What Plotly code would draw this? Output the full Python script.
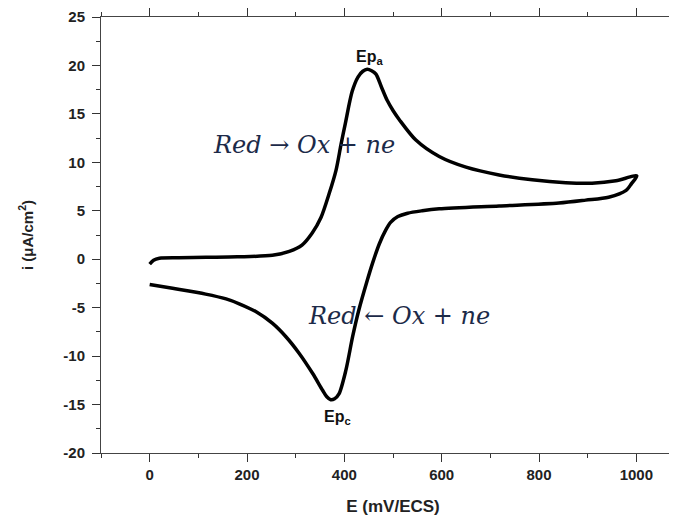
import plotly.graph_objects as go

# Forward (anodic) scan
E_fwd = [0, 8, 20, 60, 116, 180, 252, 287, 313, 334, 352, 369, 383, 393, 402, 416, 428, 438, 447,
         456, 465, 476, 488, 500, 513, 547, 595, 650, 718, 786, 855, 909, 958, 1001]
i_fwd = [-0.5, -0.1, 0.1, 0.15, 0.2, 0.25, 0.4, 0.8, 1.45, 2.7, 4.3, 6.8, 9.2, 11.8, 14.0, 17.3, 18.8, 19.4, 19.6,
         19.45, 19.1, 17.8, 16.4, 15.35, 14.4, 12.3, 10.6, 9.5, 8.7, 8.2, 7.9, 7.85, 8.1, 8.6]

# Reverse (cathodic) scan
E_rev = [1001, 990, 979, 943, 896, 841, 718, 595, 560, 530, 510, 495, 485, 472, 458, 447, 429, 417,
         403, 389, 380, 372, 364, 355, 335, 307, 280, 252, 218, 184, 157, 115, 47, 0]
i_rev = [8.6, 7.8, 7.1, 6.4, 6.1, 5.8, 5.5, 5.2, 5.0, 4.75, 4.4, 3.8, 3.0, 1.6, -0.4, -2.2, -5.4, -8.0,
         -11.5, -13.9, -14.4, -14.5, -14.2, -13.5, -11.8, -9.7, -8.0, -6.6, -5.4, -4.6, -4.1, -3.6, -3.0, -2.6]

x_ticks = [0, 200, 400, 600, 800, 1000]
x_labels = ["0", "200", "400", "600", "800", "1000"]
y_ticks = [-20, -15, -10, -5, 0, 5, 10, 15, 20, 25]
y_labels = ["-20", "-15", "-10", "-5", "0", "5", "10", "15", "20", "25"]

fig = go.Figure()
fig.add_trace(go.Scatter(
    x=E_fwd + E_rev[1:], y=i_fwd + i_rev[1:], mode="lines",
    line=dict(color="black", width=3.5, shape="spline", smoothing=0.8),
    showlegend=False, hoverinfo="skip"))

tickfont = dict(family="Liberation Sans, Arial", size=15, color="#222", weight="bold")
fig.update_layout(
    width=677, height=520,
    margin=dict(l=93, r=0, t=9, b=75),
    paper_bgcolor="white", plot_bgcolor="white",
    xaxis=dict(range=[-100, 1100], tickvals=x_ticks, ticktext=x_labels, ticks="outside", ticklen=8, tickwidth=1,
               tickcolor="#333", showline=True, linecolor="#444", linewidth=1, mirror="ticks",
               showgrid=False, zeroline=False, tickfont=tickfont,
               minor=dict(dtick=100, tick0=0, ticks="outside", ticklen=4, tickcolor="#333", showgrid=False),
               title=dict(text="E (mV/ECS)", standoff=18,
                          font=dict(family="Liberation Sans, Arial", size=17, color="#222", weight="bold"))),
    yaxis=dict(range=[-20, 25], tickvals=y_ticks, ticktext=y_labels, ticks="outside", ticklen=8, tickwidth=1,
               tickcolor="#333", showline=True, linecolor="#444", linewidth=1, mirror=False,
               showgrid=False, zeroline=False, tickfont=tickfont, ticklabelstandoff=4,
               minor=dict(dtick=2.5, tick0=0, ticks="outside", ticklen=4, tickcolor="#333", showgrid=False),
               title=dict(text="i (μA/cm<sup>2</sup>)", standoff=26,
                          font=dict(family="Liberation Sans, Arial", size=15, color="#222", weight="bold"))),
)

eqfont = dict(family="DejaVu Serif, Liberation Serif", size=24, color="#1c2a48", style="italic")
fig.add_annotation(x=317, y=11.8, text="Red → Ox + ne", showarrow=False, font=eqfont)
fig.add_annotation(x=513, y=-5.9, text="Red ← Ox + ne", showarrow=False, font=eqfont)

lblfont = dict(family="Liberation Sans, Arial", size=16, color="#111", weight="bold")
fig.add_annotation(x=452, y=20.8, text="Ep<sub>a</sub>", showarrow=False, font=lblfont)
fig.add_annotation(x=386, y=-16.3, text="Ep<sub>c</sub>", showarrow=False, font=lblfont)

fig.write_html("out.html")
